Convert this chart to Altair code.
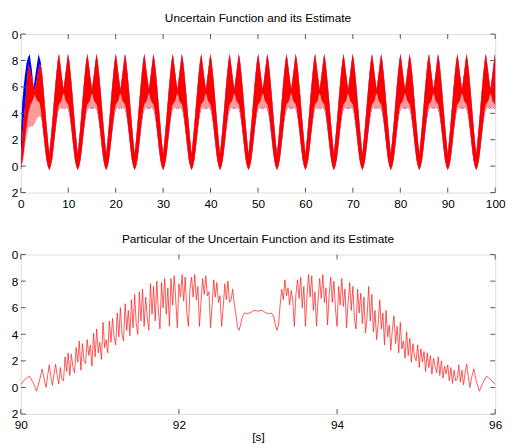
import altair as alt
import pandas as pd

FONT = "Liberation Sans"
W = 482
H1 = 161
H2 = 162

# ---------------- top panel: 0..100 s (envelope of a fast-oscillating signal) ----------------
period_starts = [0, 6, 12, 18, 24, 30, 36, 42, 48, 54, 60, 66, 72, 78, 84, 90, 96]
tau = [0.0, 0.3, 0.6, 0.9, 1.2, 1.5, 1.8, 2.05, 2.3, 2.6, 2.85, 3.0, 3.15, 3.4, 3.7, 3.95, 4.2, 4.5, 4.8, 5.1, 5.4, 5.7]
env_upper = [0.9, 2.0, 3.2, 4.5, 5.8, 7.0, 8.0, 8.5, 7.8, 6.9, 6.2, 5.8, 6.2, 6.9, 7.8, 8.5, 8.0, 7.0, 5.8, 4.5, 3.2, 2.0]
env_lower = [-0.3, 0.0, 0.5, 1.4, 2.4, 3.3, 4.0, 4.3, 4.4, 4.4, 4.3, 4.5, 4.3, 4.4, 4.4, 4.3, 4.0, 3.3, 2.4, 1.4, 0.5, 0.0]
env_core = [-0.3, 0.0, 0.5, 1.4, 2.4, 3.4, 4.3, 4.7, 4.8, 5.0, 5.4, 5.5, 5.4, 5.0, 4.8, 4.7, 4.3, 3.4, 2.4, 1.4, 0.5, 0.0]

# first period: estimate (red) not yet converged
red1_t = [0.0, 0.3, 0.6, 1.0, 1.6, 2.0, 2.5, 2.9, 3.4, 3.95, 4.2, 4.5, 4.8, 5.1, 5.4, 5.7]
red1_upper = [0.0, 2.2, 3.5, 5.0, 7.7, 7.2, 6.4, 5.7, 6.6, 7.7, 7.6, 7.0, 5.8, 4.5, 3.2, 2.0]
red1_lower = [0.0, 0.1, 0.6, 1.8, 2.9, 3.0, 3.0, 3.2, 3.6, 3.8, 3.7, 3.3, 2.4, 1.4, 0.5, 0.0]
red1_core = [0.0, 0.3, 1.0, 2.4, 4.0, 4.6, 5.0, 5.4, 5.0, 4.8, 4.3, 3.4, 2.4, 1.4, 0.5, 0.0]

# first period: true function (blue)
blue1_t = [0.0, 0.1, 0.3, 0.6, 0.9, 1.2, 1.5, 1.87, 2.3, 2.7, 3.2, 3.73, 4.2, 4.5, 4.8, 5.1, 5.4, 5.7]
blue1_upper = [0.5, 3.0, 4.8, 6.0, 7.0, 7.8, 8.2, 8.5, 7.4, 6.0, 7.2, 8.5, 7.9, 7.0, 5.8, 4.5, 3.2, 2.0]
blue1_lower = [-0.3, -0.2, 0.4, 1.4, 2.5, 3.5, 4.2, 4.4, 4.4, 4.5, 4.4, 4.4, 4.0, 3.3, 2.4, 1.4, 0.5, 0.0]

# ---------------- bottom panel: 90..96 s detail ----------------
bottom_t = [
    90.00, 90.05, 90.11, 90.16, 90.20, 90.24, 90.27, 90.30, 90.32, 90.34, 90.36, 90.38, 90.40, 90.42, 90.44, 90.46,
    90.48, 90.50, 90.52, 90.54, 90.56, 90.58, 90.60, 90.62, 90.64, 90.66, 90.68, 90.70, 90.72, 90.74, 90.76, 90.78,
    90.80, 90.82, 90.84, 90.86, 90.88, 90.90, 90.92, 90.94, 90.96, 90.98, 91.00, 91.02, 91.04, 91.06, 91.08, 91.10,
    91.12, 91.14, 91.16, 91.18, 91.20, 91.22, 91.24, 91.26, 91.28, 91.30, 91.32, 91.34, 91.36, 91.38, 91.40, 91.42,
    91.44, 91.46, 91.48, 91.50, 91.52, 91.54, 91.56, 91.58, 91.60, 91.62, 91.64, 91.66, 91.68, 91.70, 91.72, 91.74,
    91.76, 91.78, 91.80, 91.82, 91.84, 91.86, 91.88, 91.90, 91.92, 91.94, 91.96, 91.98, 92.00, 92.02, 92.04, 92.06,
    92.08, 92.10, 92.12, 92.14, 92.16, 92.18, 92.20, 92.22, 92.24, 92.26, 92.28, 92.30, 92.32, 92.34, 92.36, 92.38,
    92.40, 92.42, 92.44, 92.46, 92.48, 92.50, 92.52, 92.54, 92.56, 92.58, 92.60, 92.62, 92.64, 92.66, 92.68, 92.70,
    92.72, 92.74, 92.76, 92.78, 92.80, 92.83, 92.87, 92.91, 92.95, 93.00, 93.05, 93.09, 93.13, 93.17, 93.20, 93.22,
    93.24, 93.26, 93.28, 93.30, 93.32, 93.34, 93.36, 93.38, 93.40, 93.42, 93.44, 93.46, 93.48, 93.50, 93.52, 93.54,
    93.56, 93.58, 93.60, 93.62, 93.64, 93.66, 93.68, 93.70, 93.72, 93.74, 93.76, 93.78, 93.80, 93.82, 93.84, 93.86,
    93.88, 93.90, 93.92, 93.94, 93.96, 93.98, 94.00, 94.02, 94.04, 94.06, 94.08, 94.10, 94.12, 94.14, 94.16, 94.18,
    94.20, 94.22, 94.24, 94.26, 94.28, 94.30, 94.32, 94.34, 94.36, 94.38, 94.40, 94.42, 94.44, 94.46, 94.48, 94.50,
    94.52, 94.54, 94.56, 94.58, 94.60, 94.62, 94.64, 94.66, 94.68, 94.70, 94.72, 94.74, 94.76, 94.78, 94.80, 94.82,
    94.84, 94.86, 94.88, 94.90, 94.92, 94.94, 94.96, 94.98, 95.00, 95.02, 95.04, 95.06, 95.08, 95.10, 95.12, 95.14,
    95.16, 95.18, 95.20, 95.22, 95.24, 95.26, 95.28, 95.30, 95.32, 95.34, 95.36, 95.38, 95.40, 95.42, 95.44, 95.46,
    95.48, 95.50, 95.52, 95.54, 95.56, 95.58, 95.60, 95.62, 95.64, 95.66, 95.68, 95.70, 95.73, 95.76, 95.80, 95.84,
    95.89, 95.95, 96.00,
]
bottom_y = [
    0.22, 0.60, 0.85, 0.30, -0.28, 0.60, 1.38, 0.50, 0.00, 0.90, 1.70, 0.80, 0.15, 1.00, 1.75, 0.90,
    0.25, 1.50, 0.60, 0.50, 2.30, 1.20, 2.60, 0.90, 2.50, 1.50, 1.10, 3.00, 1.90, 3.50, 1.30, 3.30,
    2.00, 1.80, 3.60, 2.40, 3.20, 1.60, 4.10, 2.30, 4.40, 2.60, 3.40, 2.10, 4.90, 3.00, 3.60, 2.60,
    5.00, 3.40, 5.20, 3.80, 3.20, 5.60, 3.80, 6.00, 4.00, 3.50, 6.30, 4.30, 5.80, 3.90, 6.60, 4.50,
    7.00, 4.80, 4.00, 7.20, 5.00, 7.40, 4.60, 6.80, 5.20, 4.30, 7.80, 5.50, 7.60, 5.00, 8.00, 5.80,
    4.40, 7.90, 6.00, 8.20, 5.50, 7.50, 4.60, 8.20, 6.20, 8.40, 6.60, 4.50, 7.80, 6.80, 8.50, 6.50,
    8.30, 5.60, 4.60, 7.40, 8.30, 6.80, 8.50, 6.60, 7.60, 4.60, 6.50, 8.20, 7.00, 8.40, 6.90, 7.20,
    4.50, 6.20, 8.10, 6.80, 7.90, 6.40, 6.90, 4.60, 6.00, 7.80, 6.60, 8.00, 6.40, 6.60, 7.40, 6.30,
    5.50, 4.60, 4.30, 4.70, 5.30, 5.60, 5.55, 5.65, 5.80, 5.75, 5.80, 5.65, 5.55, 5.60, 5.30, 4.70,
    4.30, 4.70, 6.20, 7.40, 6.60, 8.10, 6.90, 7.50, 6.20, 7.30, 6.50, 4.60, 7.00, 8.10, 6.70, 8.30,
    6.00, 7.60, 4.60, 6.90, 8.50, 6.80, 8.40, 5.80, 7.20, 4.60, 6.60, 8.20, 6.70, 8.50, 6.40, 7.50,
    4.70, 7.00, 8.30, 6.40, 8.00, 5.90, 4.60, 7.60, 6.20, 8.20, 6.10, 7.40, 4.50, 6.40, 7.90, 5.80,
    7.60, 5.20, 4.40, 7.40, 5.60, 7.10, 4.80, 6.80, 4.10, 5.30, 7.60, 5.00, 7.00, 4.20, 5.80, 3.60,
    4.80, 6.60, 4.40, 5.60, 3.20, 5.80, 3.80, 4.70, 2.80, 4.40, 5.40, 3.30, 4.60, 2.60, 4.90, 2.90,
    3.50, 2.20, 4.20, 2.40, 3.70, 1.90, 3.30, 2.30, 2.00, 3.20, 1.50, 2.90, 1.90, 2.70, 1.20, 2.60,
    1.50, 2.40, 1.00, 2.20, 1.60, 1.10, 2.30, 0.90, 2.00, 0.70, 1.60, 1.00, 1.70, 0.50, 1.50, 0.30,
    1.30, 0.50, 0.60, 1.70, 0.40, 1.30, 0.20, 1.10, 1.75, 0.80, 0.00, 0.70, 1.40, 0.50, -0.28, 0.30,
    0.85, 0.55, 0.22,
]

top_xticks = [0, 10, 20, 30, 40, 50, 60, 70, 80, 90, 100]
bot_xticks = [90, 92, 94, 96]
yticks = [-2, 0, 2, 4, 6, 8, 10]

# ---------------- build tables ----------------
red_rows = [dict(t=a, upper=b, lower=c, core=d) for a, b, c, d in zip(red1_t, red1_upper, red1_lower, red1_core)]
blue_rows = [dict(t=a, upper=b, lower=c) for a, b, c in zip(blue1_t, blue1_upper, blue1_lower)]
for s in period_starts[1:]:
    for a, b, c, d in zip(tau, env_upper, env_lower, env_core):
        red_rows.append(dict(t=s + a, upper=b, lower=c, core=d))
        blue_rows.append(dict(t=s + a, upper=b, lower=c))
red_df = pd.DataFrame(red_rows)
blue_df = pd.DataFrame(blue_rows)
bot_df = pd.DataFrame({"t": bottom_t, "y": bottom_y})

YLABEL = "datum.value == 10 ? '0' : datum.value == -2 ? '2' : datum.label"
AX_COLOR = "#555555"


def xaxis(values, title=None):
    kw = dict(values=values, ticks=False, domain=False, grid=False, labelFont=FONT, labelFontSize=12,
              labelColor="black", labelPadding=6, labelFlush=False, labelOverlap=False)
    if title:
        kw.update(title=title, titleFont=FONT, titleFontSize=12, titleFontWeight="normal",
                  titleColor="black", titlePadding=1)
    else:
        kw.update(title=None)
    return alt.Axis(**kw)


YAXIS = alt.Axis(values=yticks, ticks=False, domain=False, grid=False, labelFont=FONT, labelFontSize=12,
                 labelColor="black", labelPadding=3, labelExpr=YLABEL, title=None, labelOverlap=False)
YS = alt.Scale(domain=[-2, 10], nice=False)


def panel(main_layers, xvals, xdom, height, title, xtitle=None):
    xs = alt.Scale(domain=xdom, nice=False, zero=False)
    xa = xaxis(xvals, xtitle)
    layers = [m(xs, xa) for m in main_layers]
    xd = pd.DataFrame({"v": xvals})
    yd = pd.DataFrame({"v": yticks})
    base_x = alt.Chart(xd).mark_rule(color=AX_COLOR, strokeWidth=1)
    base_y = alt.Chart(yd).mark_rule(color=AX_COLOR, strokeWidth=1)
    layers += [
        base_x.encode(x=alt.X("v:Q", scale=xs, axis=xa), y=alt.value(0), y2=alt.value(5)),
        base_x.encode(x=alt.X("v:Q", scale=xs, axis=xa), y=alt.value(height - 5), y2=alt.value(height)),
        base_y.encode(y=alt.Y("v:Q", scale=YS, axis=YAXIS), x=alt.value(0), x2=alt.value(5)),
        base_y.encode(y=alt.Y("v:Q", scale=YS, axis=YAXIS), x=alt.value(W - 5), x2=alt.value(W)),
    ]
    return alt.layer(*layers).properties(
        width=W, height=height,
        title=alt.TitleParams(title, font=FONT, fontSize=12, fontWeight="normal", color="black",
                              offset=1, dy=-2),
    )


def area(df, color, y2field):
    def make(xs, xa):
        return alt.Chart(df).mark_area(color=color, clip=True).encode(
            x=alt.X("t:Q", scale=xs, axis=xa),
            y=alt.Y("upper:Q", scale=YS, axis=YAXIS),
            y2=alt.Y2(y2field),
        )
    return make


def line(df, color, width):
    def make(xs, xa):
        return alt.Chart(df).mark_line(color=color, strokeWidth=width, clip=True).encode(
            x=alt.X("t:Q", scale=xs, axis=xa),
            y=alt.Y("y:Q", scale=YS, axis=YAXIS),
        )
    return make


top = panel([area(blue_df, "#0000ff", "lower"), area(red_df, "#ff9a9a", "lower"), area(red_df, "#ff0000", "core")],
            top_xticks, [0, 100], H1, "Uncertain Function and its Estimate")
bottom = panel([line(bot_df, "#ff2020", 0.75)], bot_xticks, [90, 96], H2,
               "Particular of the Uncertain Function and its Estimate", "[s]")

chart = alt.vconcat(top, bottom, spacing=22).properties(
    padding={"left": 2, "top": 0, "right": 0, "bottom": 0}
).configure_view(stroke=AX_COLOR, strokeWidth=1).configure(background="white")

chart.save("out.html", embed_options={"renderer": "svg", "actions": False})
